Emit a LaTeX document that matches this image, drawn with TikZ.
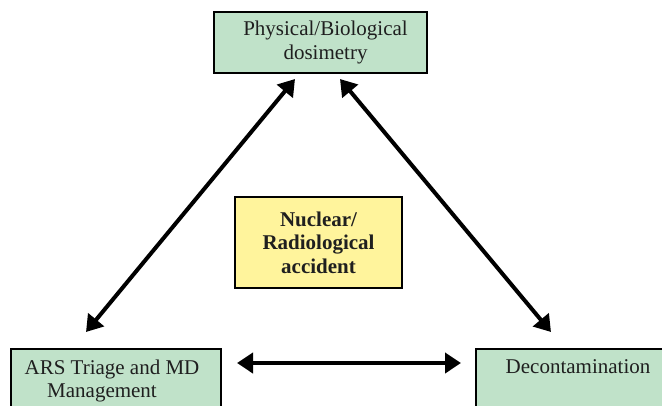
\documentclass[tikz,border=0pt]{standalone}
\usepackage{fontspec}
\setmainfont{Liberation Serif}
\usetikzlibrary{arrows.meta}
\definecolor{boxgreen}{RGB}{192,226,201}
\definecolor{boxyellow}{RGB}{255,244,156}
\colorlet{ink}{black!88}
\tikzset{
  >={Triangle[length=16pt,width=20pt]},
  box/.style={draw=black,line width=2pt,inner sep=0pt,align=center,text=ink,
    font=\fontsize{21}{23.5}\selectfont},
  greenbox/.style={box,fill=boxgreen},
  yellowbox/.style={box,fill=boxyellow,font=\fontsize{21}{23.5}\selectfont\bfseries},
  txt/.style={inner sep=0pt,align=center,text=ink,font=\fontsize{21}{23.5}\selectfont},
  conn/.style={<->,line width=4pt,black}
}
\begin{document}
\begin{tikzpicture}[x=1pt,y=-1pt]
  \useasboundingbox (0,0) rectangle (662,405);
  \clip (0,0) rectangle (662,405);

  % BOXES
  \node[greenbox,minimum width=213pt,minimum height=61pt] (phys) at (320.5,42.5)
    {\hspace*{10pt}Physical/Biological\\\hspace*{10pt}dosimetry};
  \node[yellowbox,minimum width=167pt,minimum height=91pt] (nuc) at (318.5,242.5)
    {Nuclear/\\Radiological\\accident};
  \node[greenbox,minimum width=210pt,minimum height=90pt,anchor=north west] (ars) at (10,348) {};
  \node[greenbox,minimum width=210pt,minimum height=90pt,anchor=north west] (dec) at (475,348) {};

  % TEXTS
  \node[txt,anchor=north] (arstext) at ([xshift=-4pt,yshift=-11.5pt]ars.north)
    {ARS Triage and MD\\Management\hspace*{20pt}};
  \node[txt,anchor=north] (dectext) at ([xshift=-3pt,yshift=-11.5pt]dec.north)
    {Decontamination};

  % ARROWS
  \draw[conn] ([xshift=76pt,yshift=16pt]ars.north west) -- ([xshift=82pt,yshift=-5pt]phys.south west);
  \draw[conn] ([xshift=127pt,yshift=-5pt]phys.south west) -- ([xshift=76pt,yshift=16pt]dec.north west);
  \draw[conn] ([xshift=15pt,yshift=-15pt]ars.north east) -- ([xshift=-14pt,yshift=-15pt]dec.north west);
\end{tikzpicture}
\end{document}
